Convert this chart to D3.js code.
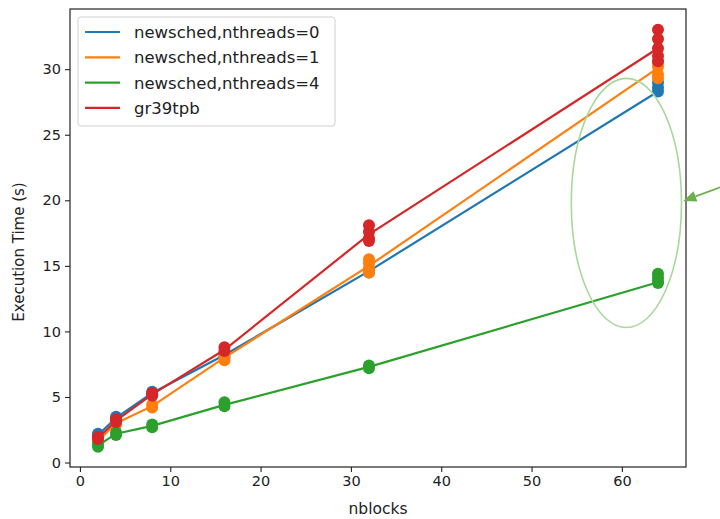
<!DOCTYPE html>
<html>
<head>
<meta charset="utf-8">
<script src="https://cdn.jsdelivr.net/npm/d3@7/dist/d3.min.js"></script>
<style>
  html, body { margin: 0; padding: 0; background: #fff; }
  svg { display: block; }
  text { font-family: "DejaVu Sans", sans-serif; fill: #222; }
</style>
</head>
<body>
<svg id="chart" width="720" height="519"></svg>
<script>
// ---- data ----
const nblocks = [2, 4, 8, 16, 32, 64];
const seriesNames = ["newsched,nthreads=0", "newsched,nthreads=1", "newsched,nthreads=4", "gr39tpb"];
const seriesColors = ["#1f77b4", "#ff7f0e", "#2ca02c", "#d62728"];

const line0 = [2.1, 3.4, 5.3, 8.2, 14.6, 28.3];
const line1 = [1.65, 3.0, 4.3, 8.0, 15.0, 30.1];
const line4 = [1.3, 2.2, 2.8, 4.4, 7.3, 13.75];
const lineGr = [1.85, 3.2, 5.2, 8.6, 17.4, 31.6];

const runs0 = [[2.2, 2.0], [3.5, 3.3], [5.4, 5.2], [8.3, 8.1], [14.7, 14.5], [29.0, 28.6, 28.3]];
const runs1 = [[1.7, 1.6], [3.0, 2.9], [4.4, 4.2], [8.0, 7.8], [15.5, 15.2, 14.8, 14.5], [30.6, 30.2, 29.6, 29.3]];
const runs4 = [[1.4, 1.2], [2.3, 2.1], [2.9, 2.7], [4.6, 4.3], [7.4, 7.2], [14.4, 14.1, 13.8, 13.7]];
const runsGr = [[1.95, 1.8], [3.3, 3.1], [5.3, 5.1], [8.8, 8.5], [18.1, 17.6, 17.1, 16.9], [33.0, 32.3, 31.6, 31.0, 30.6]];

const xTicks = [0, 10, 20, 30, 40, 50, 60];
const yTicks = [0, 5, 10, 15, 20, 25, 30];
const xLabel = "nblocks";
const yLabel = "Execution Time (s)";

// annotation (data coords)
const ellipseAnno = { cx: 60.5, cy: 19.8, rx: 6.1, ry: 9.5 };
const arrowAnno = { x1: 71.3, y1: 21.1, x2: 66.8, y2: 19.95 };

// ---- layout ----
const plot = { left: 70, right: 686, top: 9, bottom: 467 };
const svg = d3.select("#chart");

const x = d3.scaleLinear().domain([-1.1, 67.1]).range([plot.left, plot.right]);
const y = d3.scaleLinear().domain([-0.34, 34.59]).range([plot.bottom, plot.top]);

const defs = svg.append("defs");
defs.append("clipPath").attr("id", "clip")
  .append("rect").attr("x", plot.left).attr("y", plot.top)
  .attr("width", plot.right - plot.left).attr("height", plot.bottom - plot.top);

// axes
const xAxis = d3.axisBottom(x).tickValues(xTicks).tickSize(5).tickPadding(4).tickFormat(d3.format("d"));
const yAxis = d3.axisLeft(y).tickValues(yTicks).tickSize(5).tickPadding(4).tickFormat(d3.format("d"));

const gx = svg.append("g").attr("transform", `translate(0,${plot.bottom})`).call(xAxis);
const gy = svg.append("g").attr("transform", `translate(${plot.left},0)`).call(yAxis);
[gx, gy].forEach(g => {
  g.select(".domain").remove();
  g.selectAll(".tick line").attr("stroke", "#222").attr("stroke-width", 1.1);
  g.selectAll(".tick text").attr("font-size", 14.5).attr("fill", "#222")
    .style("font-family", '"DejaVu Sans", sans-serif');
});

// series
const series = [
  { line: line0, runs: runs0 },
  { line: line1, runs: runs1 },
  { line: line4, runs: runs4 },
  { line: lineGr, runs: runsGr }
];

const plotG = svg.append("g").attr("clip-path", "url(#clip)");
const lineGen = d3.line().x((d, i) => x(nblocks[i])).y(d => y(d));

series.forEach((s, si) => {
  plotG.append("path").datum(s.line)
    .attr("d", lineGen)
    .attr("fill", "none")
    .attr("stroke", seriesColors[si])
    .attr("stroke-width", 2.2);
  const pts = [];
  s.runs.forEach((arr, i) => arr.forEach(v => pts.push({ xv: nblocks[i], yv: v })));
  plotG.selectAll(null).data(pts).enter().append("circle")
    .attr("cx", d => x(d.xv)).attr("cy", d => y(d.yv))
    .attr("r", 6).attr("fill", seriesColors[si]);
});

// spines
svg.append("rect")
  .attr("x", plot.left).attr("y", plot.top)
  .attr("width", plot.right - plot.left).attr("height", plot.bottom - plot.top)
  .attr("fill", "none").attr("stroke", "#222").attr("stroke-width", 1.2);

// axis labels
svg.append("text").attr("x", (plot.left + plot.right) / 2).attr("y", 514)
  .attr("text-anchor", "middle").attr("font-size", 15.5).text(xLabel);
svg.append("text").attr("transform", "translate(24,252) rotate(-90)")
  .attr("text-anchor", "middle").attr("font-size", 15).text(yLabel);

// legend
const leg = svg.append("g").attr("transform", "translate(78,17)");
leg.append("rect").attr("x", 0).attr("y", 0).attr("width", 257).attr("height", 109)
  .attr("rx", 3).attr("fill", "#fff").attr("fill-opacity", 0.85)
  .attr("stroke", "#d0d0d0").attr("stroke-width", 1);
seriesNames.forEach((name, i) => {
  const yy = 15 + i * 25.3;
  leg.append("line").attr("x1", 7).attr("x2", 42).attr("y1", yy).attr("y2", yy)
    .attr("stroke", seriesColors[i]).attr("stroke-width", 2.2);
  leg.append("text").attr("x", 56).attr("y", yy).attr("dy", "0.36em")
    .attr("font-size", 16.5).text(name);
});

// annotation: ellipse + arrow
svg.append("ellipse")
  .attr("cx", x(ellipseAnno.cx)).attr("cy", y(ellipseAnno.cy))
  .attr("rx", x(ellipseAnno.cx + ellipseAnno.rx) - x(ellipseAnno.cx))
  .attr("ry", y(ellipseAnno.cy) - y(ellipseAnno.cy + ellipseAnno.ry))
  .attr("fill", "none").attr("stroke", "#a9d89c").attr("stroke-width", 1.6);

const ax1 = x(arrowAnno.x1), ay1 = y(arrowAnno.y1), ax2 = x(arrowAnno.x2), ay2 = y(arrowAnno.y2);
const ang = Math.atan2(ay2 - ay1, ax2 - ax1);
const headLen = 13, headW = 5.5;
const bx = ax2 - headLen * Math.cos(ang), by = ay2 - headLen * Math.sin(ang);
svg.append("line").attr("x1", ax1).attr("y1", ay1).attr("x2", bx).attr("y2", by)
  .attr("stroke", "#6ab04c").attr("stroke-width", 1.8);
svg.append("path")
  .attr("d", `M${ax2},${ay2} L${bx + headW * Math.sin(ang)},${by - headW * Math.cos(ang)} L${bx - headW * Math.sin(ang)},${by + headW * Math.cos(ang)} Z`)
  .attr("fill", "#6ab04c");
</script>
</body>
</html>
